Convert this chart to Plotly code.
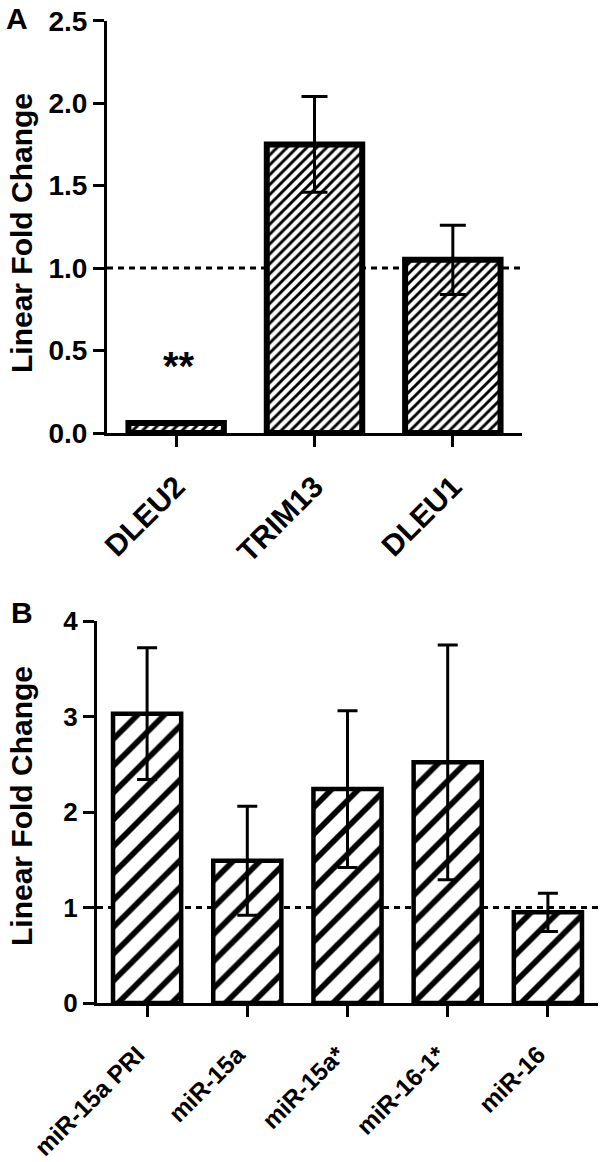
import plotly.graph_objects as go

# ---- Data ----
genes_a = ["DLEU2", "TRIM13", "DLEU1"]
fold_a = [0.06, 1.75, 1.05]
err_a = [0.01, 0.29, 0.21]

mirs_b = ["miR-15a PRI", "miR-15a", "miR-15a*", "miR-16-1*", "miR-16"]
fold_b = [3.03, 1.49, 2.24, 2.52, 0.95]
err_b = [0.69, 0.57, 0.82, 1.23, 0.20]

yticks_a = [0.0, 0.5, 1.0, 1.5, 2.0, 2.5]
yticks_b = [0, 1, 2, 3, 4]

W, H = 600, 1162
FONT = "Liberation Sans, Arial, sans-serif"

def px_x(p):
    return p / W

def px_y(p):
    return 1 - p / H

fig = go.Figure()

fig.add_trace(go.Bar(
    x=genes_a, y=fold_a, width=0.69,
    marker=dict(color="white",
                line=dict(color="black", width=6),
                pattern=dict(shape="/", fgcolor="black", bgcolor="white",
                             fgopacity=1, size=7, solidity=0.42)),
    error_y=dict(type="data", array=err_a, visible=True, color="black",
                 thickness=3, width=13),
    xaxis="x", yaxis="y", showlegend=False,
))

fig.add_trace(go.Bar(
    x=mirs_b, y=fold_b, width=0.68,
    marker=dict(color="white",
                line=dict(color="black", width=4.5),
                pattern=dict(shape="/", fgcolor="black", bgcolor="white",
                             fgopacity=1, size=19, solidity=0.3)),
    error_y=dict(type="data", array=err_b, visible=True, color="black",
                 thickness=3, width=10),
    xaxis="x2", yaxis="y2", showlegend=False,
))

axis_common = dict(showline=True, linecolor="black", linewidth=3,
                   ticks="outside", ticklen=11, tickwidth=3, tickcolor="black",
                   showgrid=False, zeroline=False, automargin=False,
                   ticklabeloverflow="allow")

PAD = "\u00a0\u00a0"  # trailing spacing pushes rotated labels away from ticks

fig.update_layout(
    width=W, height=H,
    margin=dict(l=0, r=0, t=0, b=0, autoexpand=False),
    plot_bgcolor="white", paper_bgcolor="white",
    font=dict(family=FONT, color="black"),
    xaxis=dict(domain=[px_x(107), px_x(522)], anchor="y",
               type="category", range=[-0.5, 2.5], tickangle=-45,
               ticklabelstandoff=10,
               tickfont=dict(size=30, family=FONT, weight="bold"),
               **axis_common),
    yaxis=dict(domain=[px_y(433), px_y(20.7)], anchor="x",
               range=[0, 2.5], tickvals=yticks_a,
               ticktext=[f"{v:.1f}" for v in yticks_a],
               tickfont=dict(size=28, family=FONT, weight="bold"),
               **axis_common),
    xaxis2=dict(domain=[px_x(97), px_x(598)], anchor="y2",
                type="category", range=[-0.5, 4.5], tickangle=-45,
                tickvals=mirs_b, ticktext=[m + PAD for m in mirs_b],
                ticklabelstandoff=4,
                tickfont=dict(size=24.5, family=FONT, weight="bold"),
                **axis_common),
    yaxis2=dict(domain=[px_y(1003), px_y(621)], anchor="x2",
                range=[0, 4], tickvals=yticks_b,
                ticktext=[str(v) for v in yticks_b],
                tickfont=dict(size=26, family=FONT, weight="bold"),
                **axis_common),
)

# dotted reference lines at 1.0
fig.add_shape(type="line", xref="x domain", yref="y", x0=0, x1=1, y0=1, y1=1,
              line=dict(color="black", width=3, dash="6px,5px"), layer="below")
fig.add_shape(type="line", xref="x2 domain", yref="y2", x0=0, x1=1, y0=1, y1=1,
              line=dict(color="black", width=3, dash="6px,5px"), layer="below")

# panel letters
fig.add_annotation(text="A", x=px_x(4), y=px_y(0), xref="paper", yref="paper",
                   xanchor="left", yanchor="top", showarrow=False,
                   font=dict(size=30, family=FONT, weight="bold"))
fig.add_annotation(text="B", x=px_x(9), y=px_y(594), xref="paper", yref="paper",
                   xanchor="left", yanchor="top", showarrow=False,
                   font=dict(size=30, family=FONT, weight="bold"))

# y-axis titles
fig.add_annotation(text="Linear Fold Change", x=px_x(21), y=px_y(233),
                   xref="paper", yref="paper", textangle=-90, showarrow=False,
                   xanchor="center", yanchor="middle",
                   font=dict(size=30, family=FONT, weight="bold"))
fig.add_annotation(text="Linear Fold Change", x=px_x(21), y=px_y(806),
                   xref="paper", yref="paper", textangle=-90, showarrow=False,
                   xanchor="center", yanchor="middle",
                   font=dict(size=30, family=FONT, weight="bold"))

# significance marker
fig.add_annotation(text="**", x="DLEU2", y=0.44, xref="x", yref="y",
                   showarrow=False, yanchor="middle", yshift=-6, xshift=3,
                   font=dict(size=40, family=FONT, weight="bold"))

fig.write_html("out.html",
               config={"displayModeBar": False},
               post_script="document.body.style.margin='0';"
                           "document.documentElement.style.margin='0';")
